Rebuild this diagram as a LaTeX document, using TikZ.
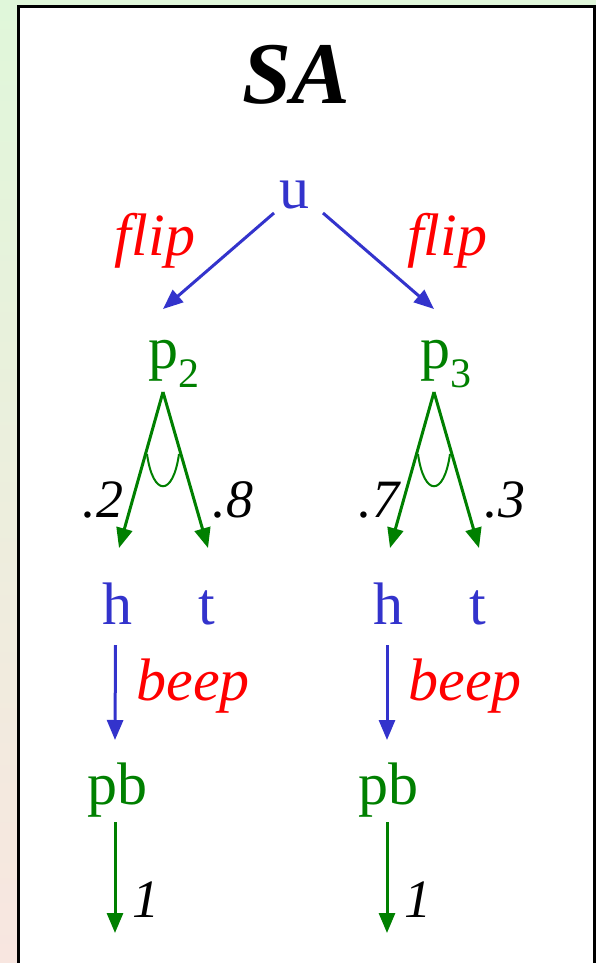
\documentclass[tikz,border=0pt]{standalone}
\usepackage{fontspec}
\setmainfont{Liberation Serif}
\usetikzlibrary{arrows.meta,calc}
\definecolor{cblue}{RGB}{51,51,204}
\definecolor{cgreen}{RGB}{0,128,0}
\definecolor{cred}{RGB}{255,0,0}
\definecolor{bgtop}{RGB}{224,247,218}
\definecolor{bgbot}{RGB}{248,230,224}
\tikzset{
  lbl/.style={inner sep=0pt, anchor=base, font=\fontsize{60}{70}\selectfont},
  st/.style={lbl, text=cgreen},
  ev/.style={lbl, text=cblue},
  act/.style={lbl, text=cred, font=\fontsize{60}{70}\selectfont\itshape},
  num/.style={inner sep=0pt, anchor=base, font=\fontsize{54}{64}\selectfont\itshape, text=black},
  barrow/.style={draw=cblue, line width=3pt, -{Triangle[length=20pt,width=16pt]}},
  garrow/.style={draw=cgreen, line width=3pt, -{Triangle[length=20pt,width=16pt]}},
}
\begin{document}
\begin{tikzpicture}[x=1pt,y=-1pt]
\useasboundingbox (0,0) rectangle (596,963);
\shade[top color=bgtop, bottom color=bgbot] (0,0) rectangle (596,963);
\draw[fill=white, line width=3pt] (18.5,6.5) rectangle (594.5,990);

\node[inner sep=0pt, anchor=base, font=\fontsize{88}{100}\selectfont\bfseries\itshape] (title) at (296,103) {SA};

\node[ev] (u) at (294,208) {u};
\node[st] (p2) at (174,368) {p\textsubscript{2}};
\node[st] (p3) at (446,368) {p\textsubscript{3}};
\node[ev] (h1) at (117.5,624) {h};
\node[ev] (t1) at (207,624) {t};
\node[ev] (h2) at (388,624) {h};
\node[ev] (t2) at (478,624) {t};
\node[st] (pb1) at (117,804) {pb};
\node[st] (pb2) at (388,804) {pb};
\coordinate (e1) at (115,933);
\coordinate (e2) at (387,933);

% u -> p2, p3
\draw[barrow] ([shift={(-20,5)}]u.base) -- ([shift={(-11,-59)}]p2.base);
\draw[barrow] ([shift={(29,5)}]u.base) -- ([shift={(-12,-59)}]p3.base);
\node[act] (f1) at (155,255) {flip};
\node[act] (f2) at (447,255) {flip};

% p2 -> h, t
\draw[garrow] ([shift={(-11,24)}]p2.base) -- ([shift={(1.5,-76)}]h1.base);
\draw[garrow] ([shift={(-11,24)}]p2.base) -- ([shift={(1,-76)}]t1.base);
\draw[cgreen, line width=2pt] (147,454) .. controls (153,497) and (173,497) .. (179,454);
\node[num] (n2) at (103,517) {.2};
\node[num] (n8) at (233,517) {.8};

% p3 -> h, t
\draw[garrow] ([shift={(-12,24)}]p3.base) -- ([shift={(2,-76)}]h2.base);
\draw[garrow] ([shift={(-12,24)}]p3.base) -- ([shift={(1,-76)}]t2.base);
\draw[cgreen, line width=2pt] (418,454) .. controls (424,497) and (444,497) .. (450,454);
\node[num] (n7) at (379,517) {.7};
\node[num] (n3) at (505,517) {.3};

% h -> pb
\draw[barrow] ([shift={(-2,21)}]h1.base) -- ([shift={(-2,-64)}]pb1.base);
\draw[barrow] ([shift={(-1,21)}]h2.base) -- ([shift={(-1,-64)}]pb2.base);
\node[act] (b1) at (193,700) {beep};
\node[act] (b2) at (465,700) {beep};

% pb -> end
\draw[garrow] ([shift={(-2,18)}]pb1.base) -- (e1);
\draw[garrow] ([shift={(-1,18)}]pb2.base) -- (e2);
\node[num] (o1) at (146,917) {1};
\node[num] (o2) at (418,917) {1};
\end{tikzpicture}
\end{document}
